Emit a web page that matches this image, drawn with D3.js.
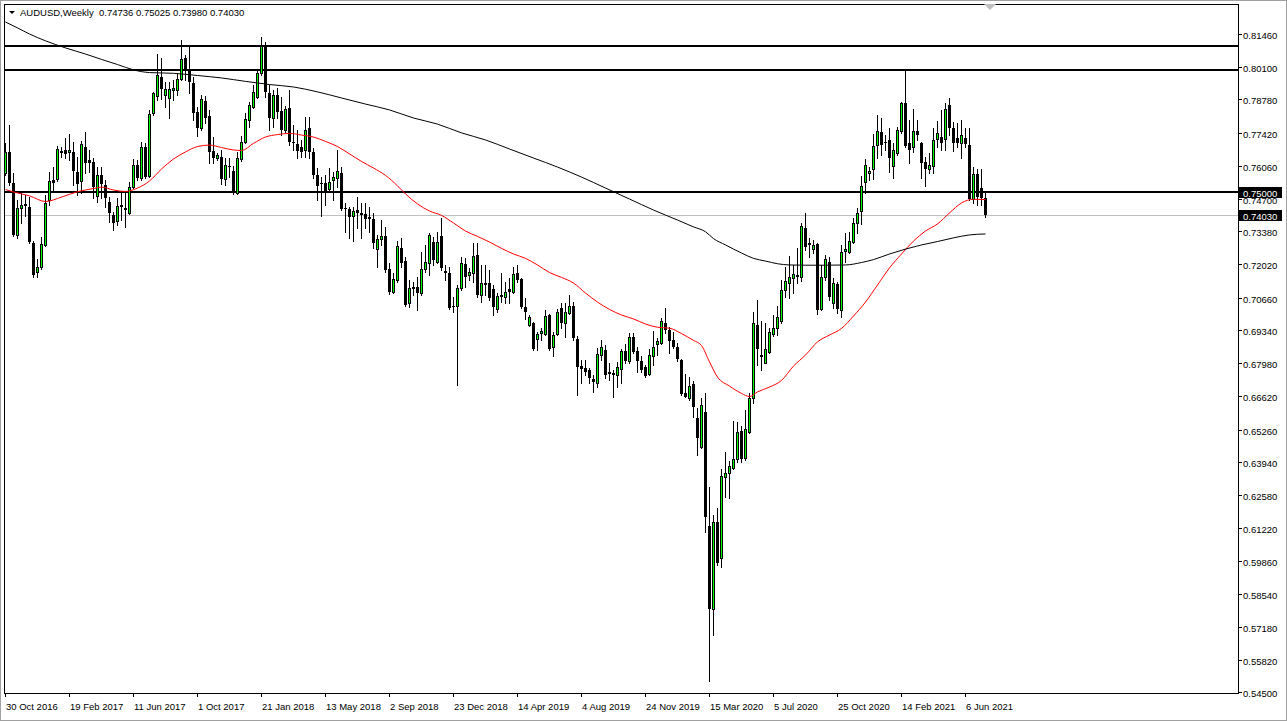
<!DOCTYPE html>
<html><head><meta charset="utf-8">
<script src="https://cdn.jsdelivr.net/npm/d3@7"></script>
<style>
html,body{margin:0;padding:0;background:#fff;overflow:hidden;}
svg{display:block;}
text{font-family:"Liberation Sans",Arial,sans-serif;font-size:9.5px;fill:#000;}
</style></head><body>
<svg id="chart" width="1287" height="721"></svg>
<script>
// ---------------- DATA ----------------
const symbolTitle = "AUDUSD,Weekly";
const firstWeek = "2016-10-30";
const opens = [0.7576,0.7662,0.7537,0.7323,0.7432,0.7449,0.7439,0.7290,0.7173,0.7191,
0.7282,0.7466,0.7548,0.7551,0.7664,0.7671,0.7663,0.7664,0.7581,0.7544,
0.7682,0.7630,0.7621,0.7483,0.7569,0.7528,0.7459,0.7405,0.7381,0.7446,
0.7433,0.7414,0.7520,0.7610,0.7555,0.7682,0.7565,0.7821,0.7892,0.7971,
0.7896,0.7883,0.7916,0.7917,0.7961,0.8047,0.7999,0.7944,0.7828,0.7760,
0.7873,0.7810,0.7668,0.7639,0.7644,0.7551,0.7605,0.7585,0.7494,0.7633,
0.7705,0.7794,0.7848,0.7889,0.7988,0.8097,0.7903,0.7803,0.7896,0.7832,
0.7753,0.7842,0.7705,0.7696,0.7685,0.7671,0.7760,0.7664,0.7569,0.7534,
0.7535,0.7510,0.7548,0.7558,0.7575,0.7435,0.7428,0.7401,0.7425,0.7414,
0.7409,0.7395,0.7387,0.7264,0.7305,0.7319,0.7182,0.7091,0.7139,0.7270,
0.7216,0.7043,0.7109,0.7109,0.7084,0.7182,0.7207,0.7295,0.7213,0.7320,
0.7175,0.7166,0.7032,0.7032,0.7105,0.7203,0.7159,0.7166,0.7241,0.7077,
0.7125,0.7125,0.7100,0.7018,0.7077,0.7068,0.7100,0.7091,0.7166,0.7143,
0.7029,0.6954,0.6961,0.6898,0.6920,0.6917,0.6995,0.6863,0.6917,0.7023,
0.6964,0.7005,0.7032,0.6896,0.6785,0.6777,0.6770,0.6732,0.6715,0.6831,
0.6852,0.6763,0.6759,0.6748,0.6775,0.6848,0.6808,0.6905,0.6848,0.6808,
0.6783,0.6753,0.6828,0.6875,0.6882,0.6961,0.6934,0.6893,0.6865,0.6810,
0.6674,0.6654,0.6712,0.6572,0.6453,0.6599,0.6131,0.5790,0.6149,0.5998,
0.6333,0.6349,0.6367,0.6404,0.6521,0.6408,0.6517,0.6654,0.6954,0.6831,
0.6800,0.6845,0.6917,0.6941,0.6972,0.7097,0.7128,0.7146,0.7158,0.7152,
0.7350,0.7288,0.7264,0.7286,0.7019,0.7150,0.7213,0.7043,0.7122,0.7016,
0.7257,0.7254,0.7295,0.7373,0.7422,0.7541,0.7576,0.7592,0.7691,0.7746,
0.7705,0.7712,0.7605,0.7660,0.7750,0.7862,0.7701,0.7682,0.7750,0.7698,
0.7623,0.7592,0.7605,0.7715,0.7725,0.7715,0.7855,0.7760,0.7719,0.7698,
0.7719,0.7691,0.7469,0.7573,0.7514,0.74736];
const highs = [0.7698,0.7773,0.7577,0.7466,0.7495,0.7487,0.7478,0.7300,0.7225,0.7316,
0.7487,0.7582,0.7600,0.7687,0.7685,0.7719,0.7737,0.7703,0.7644,0.7709,
0.7746,0.7671,0.7637,0.7603,0.7603,0.7548,0.7480,0.7418,0.7474,0.7500,
0.7504,0.7541,0.7635,0.7630,0.7705,0.7698,0.7835,0.7910,0.8064,0.8047,
0.7951,0.7951,0.7958,0.7985,0.8121,0.8060,0.8097,0.7971,0.7848,0.7896,
0.7892,0.7835,0.7725,0.7657,0.7671,0.7637,0.7637,0.7605,0.7664,0.7728,
0.7821,0.7869,0.7937,0.7999,0.8133,0.8115,0.7937,0.7917,0.7925,0.7889,
0.7851,0.7917,0.7773,0.7753,0.7712,0.7807,0.7807,0.7678,0.7596,0.7562,
0.7569,0.7596,0.7582,0.7671,0.7600,0.7453,0.7436,0.7439,0.7477,0.7453,
0.7455,0.7439,0.7412,0.7323,0.7384,0.7357,0.7207,0.7166,0.7300,0.7309,
0.7234,0.7139,0.7132,0.7152,0.7254,0.7282,0.7332,0.7316,0.7336,0.7391,
0.7200,0.7193,0.7070,0.7118,0.7231,0.7227,0.7186,0.7289,0.7289,0.7200,
0.7200,0.7179,0.7118,0.7084,0.7166,0.7132,0.7146,0.7193,0.7200,0.7146,
0.7064,0.6995,0.6968,0.6927,0.6941,0.7016,0.7000,0.6927,0.7019,0.7043,
0.7043,0.7077,0.7050,0.6909,0.6811,0.6811,0.6777,0.6749,0.6859,0.6893,
0.6873,0.6797,0.6770,0.6804,0.6855,0.6876,0.6923,0.6923,0.6865,0.6827,
0.6792,0.6855,0.6930,0.6902,0.6982,0.7023,0.6947,0.6927,0.6879,0.6815,
0.6755,0.6740,0.6726,0.6613,0.6654,0.6677,0.6292,0.6176,0.6203,0.6363,
0.6435,0.6398,0.6562,0.6558,0.6540,0.6606,0.6675,0.7009,0.7057,0.6972,
0.6961,0.6941,0.6995,0.7032,0.7139,0.7193,0.7237,0.7200,0.7268,0.7371,
0.7412,0.7309,0.7302,0.7289,0.7200,0.7241,0.7234,0.7146,0.7132,0.7282,
0.7330,0.7336,0.7391,0.7432,0.7564,0.7633,0.7600,0.7736,0.7814,0.7801,
0.7732,0.7760,0.7701,0.7766,0.7869,0.8002,0.7794,0.7838,0.7794,0.7705,
0.7644,0.7657,0.7760,0.7790,0.7835,0.7862,0.7883,0.7787,0.7780,0.7794,
0.7760,0.7762,0.7600,0.7592,0.7592,0.75025];
const lows = [0.7569,0.7528,0.7319,0.7311,0.7372,0.7401,0.7291,0.7152,0.7152,0.7182,
0.7278,0.7446,0.7500,0.7545,0.7644,0.7637,0.7630,0.7528,0.7487,0.7496,
0.7576,0.7582,0.7473,0.7459,0.7473,0.7439,0.7377,0.7343,0.7364,0.7384,
0.7357,0.7409,0.7515,0.7546,0.7548,0.7555,0.7560,0.7814,0.7876,0.7879,
0.7848,0.7801,0.7876,0.7896,0.7958,0.7958,0.7903,0.7794,0.7728,0.7753,
0.7782,0.7617,0.7617,0.7630,0.7532,0.7528,0.7562,0.7490,0.7491,0.7626,
0.7700,0.7766,0.7843,0.7884,0.7978,0.7889,0.7753,0.7766,0.7803,0.7732,
0.7745,0.7691,0.7671,0.7637,0.7644,0.7644,0.7639,0.7556,0.7466,0.7401,
0.7446,0.7500,0.7466,0.7521,0.7425,0.7336,0.7312,0.7299,0.7350,0.7309,
0.7350,0.7336,0.7268,0.7193,0.7282,0.7171,0.7081,0.7085,0.7130,0.7193,
0.7032,0.7027,0.7077,0.7016,0.7077,0.7172,0.7159,0.7200,0.7207,0.7179,
0.7139,0.7018,0.7009,0.6708,0.7098,0.7111,0.7139,0.7132,0.7068,0.7050,
0.7077,0.7057,0.6995,0.7007,0.7050,0.7043,0.7043,0.7084,0.7131,0.7023,
0.6978,0.6950,0.6852,0.6852,0.6892,0.6913,0.6852,0.6828,0.6913,0.6942,
0.6906,0.6999,0.6893,0.6667,0.6716,0.6750,0.6716,0.6681,0.6701,0.6811,
0.6737,0.6729,0.6660,0.6701,0.6715,0.6800,0.6800,0.6838,0.6761,0.6761,
0.6740,0.6749,0.6790,0.6831,0.6876,0.6920,0.6838,0.6859,0.6808,0.6667,
0.6658,0.6647,0.6576,0.6422,0.6450,0.6107,0.5494,0.5686,0.5971,0.5964,
0.6251,0.6244,0.6363,0.6394,0.6394,0.6401,0.6510,0.6636,0.6790,0.6770,
0.6797,0.6838,0.6909,0.6913,0.6964,0.7069,0.7066,0.7084,0.7128,0.7136,
0.7261,0.7234,0.7248,0.7000,0.7016,0.7139,0.7057,0.7023,0.7002,0.6988,
0.7213,0.7249,0.7290,0.7330,0.7368,0.7495,0.7548,0.7551,0.7637,0.7651,
0.7671,0.7582,0.7555,0.7651,0.7741,0.7682,0.7617,0.7663,0.7712,0.7555,
0.7524,0.7578,0.7578,0.7684,0.7671,0.7671,0.7732,0.7667,0.7684,0.7637,
0.7684,0.7466,0.7454,0.7446,0.7446,0.73980];
const closes = [0.7662,0.7535,0.7323,0.7432,0.7446,0.7443,0.7295,0.7159,0.7193,0.7286,
0.7453,0.7545,0.7537,0.7674,0.7667,0.7653,0.7671,0.7586,0.7532,0.7694,
0.7617,0.7617,0.7521,0.7569,0.7531,0.7474,0.7412,0.7373,0.7443,0.7436,
0.7425,0.7518,0.7610,0.7555,0.7684,0.7562,0.7818,0.7903,0.7978,0.7920,
0.7921,0.7920,0.7924,0.7961,0.8042,0.7999,0.7951,0.7821,0.7760,0.7879,
0.7802,0.7664,0.7637,0.7650,0.7551,0.7610,0.7600,0.7494,0.7637,0.7705,
0.7797,0.7855,0.7910,0.7985,0.8097,0.7910,0.7801,0.7896,0.7828,0.7753,
0.7838,0.7705,0.7698,0.7668,0.7664,0.7753,0.7664,0.7569,0.7524,0.7530,
0.7500,0.7541,0.7562,0.7586,0.7431,0.7428,0.7395,0.7421,0.7412,0.7405,
0.7388,0.7387,0.7289,0.7305,0.7319,0.7179,0.7091,0.7141,0.7278,0.7207,
0.7036,0.7105,0.7100,0.7084,0.7182,0.7212,0.7323,0.7220,0.7295,0.7186,
0.7166,0.7023,0.7027,0.7105,0.7209,0.7152,0.7173,0.7237,0.7077,0.7125,
0.7117,0.7064,0.7029,0.7073,0.7070,0.7091,0.7091,0.7163,0.7139,0.7029,
0.7009,0.6986,0.6855,0.6917,0.6931,0.6991,0.6855,0.6913,0.7009,0.6964,
0.7009,0.7032,0.6900,0.6783,0.6772,0.6763,0.6736,0.6722,0.6835,0.6865,
0.6749,0.6752,0.6751,0.6781,0.6848,0.6808,0.6906,0.6845,0.6808,0.6770,
0.6747,0.6831,0.6865,0.6890,0.6971,0.6934,0.6890,0.6863,0.6814,0.6670,
0.6661,0.6704,0.6617,0.6493,0.6627,0.6169,0.5790,0.6149,0.5978,0.6336,
0.6347,0.6377,0.6404,0.6517,0.6404,0.6527,0.6654,0.6961,0.6855,0.6824,
0.6855,0.6924,0.6941,0.6986,0.7097,0.7136,0.7150,0.7163,0.7152,0.7360,
0.7272,0.7283,0.7282,0.7016,0.7150,0.7223,0.7068,0.7125,0.7019,0.7254,
0.7264,0.7299,0.7373,0.7414,0.7524,0.7610,0.7586,0.7687,0.7750,0.7691,
0.7698,0.7637,0.7671,0.7753,0.7865,0.7687,0.7671,0.7750,0.7731,0.7619,
0.7592,0.7610,0.7712,0.7739,0.7701,0.7838,0.7760,0.7701,0.7698,0.7732,
0.7694,0.7469,0.7573,0.7480,0.7473,0.74030];

// moving averages: [bar index, value]
const redMaIdx = [0,2,6,10,14,18,22,24,27,30,33,36,39,42,45,48,51,54,57,59,62,65,68,71,74,77,80,83,86,89,92,95,98,100,103,106,109,112,115,118,121,124,127,130,133,136,139,142,145,148,151,154,157,160,163,166,169,172,174,176,178,181,184,186,188,191,194,197,200,203,206,209,212,215,218,221,224,227,230,233,236,239,242,245];
const redMaVal = [0.7509,0.7499,0.7483,0.7460,0.7478,0.7500,0.7513,0.7519,0.7507,0.7501,0.7515,0.7544,0.7593,0.7634,0.7663,0.7685,0.7691,0.7681,0.7671,0.7669,0.7698,0.7724,0.7734,0.7739,0.7732,0.7724,0.7706,0.7685,0.7655,0.7624,0.7597,0.7567,0.7524,0.7491,0.7450,0.7421,0.7403,0.7372,0.7339,0.7317,0.7294,0.7268,0.7245,0.7227,0.7200,0.7169,0.7149,0.7126,0.7085,0.7048,0.7018,0.6995,0.6979,0.6958,0.6945,0.6941,0.6919,0.6891,0.6870,0.6803,0.6741,0.6704,0.6674,0.6661,0.6680,0.6700,0.6727,0.6786,0.6831,0.6885,0.6913,0.6940,0.6991,0.7048,0.7118,0.7188,0.7245,0.7298,0.7339,0.7368,0.7413,0.7454,0.7469,0.7468];
const blackMaIdx = [0,3,6,10,15,20,24,28,32,36,42,48,54,60,66,72,78,84,90,96,102,108,114,120,126,132,138,144,150,156,162,168,172,175,177,180,184,187,190,193,196,200,205,210,214,217,221,225,229,233,237,241,245];
const blackMaVal = [0.8195,0.8171,0.8146,0.8118,0.8089,0.8064,0.8042,0.8021,0.7999,0.7988,0.7985,0.7976,0.7966,0.7952,0.7939,0.7929,0.7909,0.7884,0.7859,0.7835,0.7802,0.7777,0.7741,0.7712,0.7675,0.7638,0.7601,0.7560,0.7515,0.7470,0.7425,0.7384,0.7356,0.7336,0.7308,0.7282,0.7249,0.7227,0.7216,0.7205,0.7200,0.7199,0.7199,0.7200,0.7210,0.7222,0.7245,0.7265,0.7282,0.7296,0.7311,0.7323,0.7327];

const levelLines = [0.8098, 0.7997, 0.7500];
const bidPrice = 0.74030;
const priceTicks = ["0.81460","0.80100","0.78780","0.77420","0.76060","0.74700","0.73380","0.72020","0.70660","0.69340","0.67980","0.66620","0.65260","0.63940","0.62580","0.61220","0.59860","0.58540","0.57180","0.55820","0.54500"];
const dateLabels = ["30 Oct 2016","19 Feb 2017","11 Jun 2017","1 Oct 2017","21 Jan 2018","13 May 2018","2 Sep 2018","23 Dec 2018","14 Apr 2019","4 Aug 2019","24 Nov 2019","15 Mar 2020","5 Jul 2020","25 Oct 2020","14 Feb 2021","6 Jun 2021"];

// ---------------- CHART ----------------
const W = 1287, H = 721;
const F = {l:4, t:4, r:1238, b:693};
const svg = d3.select("#chart");
const n = opens.length;
const weeks = d3.range(n).map(i => d3.utcDay.offset(new Date(firstWeek + "T00:00:00Z"), 7*i));
const fmt = d3.utcFormat("%-d %b %Y");
const idxByLabel = new Map(weeks.map((d,i) => [fmt(d), i]));

const x = d3.scaleLinear().domain([0, n-1]).range([5, 5 + 4*(n-1)]);
const y = d3.scaleLinear().domain([0.5582, 0.8146]).range([660, 34]);
const cx = i => Math.round(x(i));
const py = v => Math.round(y(v));

svg.append("rect").attr("width", W).attr("height", H).attr("fill", "#fff");
svg.append("rect").attr("x",0.5).attr("y",0.5).attr("width",W-1).attr("height",H-1)
  .attr("fill","none").attr("stroke","#a0a0a0");

svg.append("defs").append("clipPath").attr("id","plot")
  .append("rect").attr("x",F.l+1).attr("y",F.t+1).attr("width",F.r-F.l-1).attr("height",F.b-F.t-1);
const g = svg.append("g").attr("clip-path","url(#plot)").attr("shape-rendering","crispEdges");

// bid line
g.append("line").attr("x1",F.l).attr("x2",F.r)
  .attr("y1",py(bidPrice)+0.5).attr("y2",py(bidPrice)+0.5)
  .attr("stroke","#c0c0c0").attr("stroke-width",1);

// horizontal levels
g.selectAll(".lvl").data(levelLines).join("line").attr("class","lvl")
  .attr("x1",F.l).attr("x2",F.r)
  .attr("y1",d=>py(d)).attr("y2",d=>py(d))
  .attr("stroke","#000").attr("stroke-width",2);

// candles
const candles = d3.range(n).map(i => ({i, o:opens[i], h:highs[i], l:lows[i], c:closes[i]}));
const cg = g.append("g");
cg.selectAll(".wick").data(candles).join("line").attr("class","wick")
  .attr("x1",d=>cx(d.i)+0.5).attr("x2",d=>cx(d.i)+0.5)
  .attr("y1",d=>py(d.h)).attr("y2",d=>py(d.l)+1)
  .attr("stroke","#000").attr("stroke-width",1);
cg.selectAll(".body").data(candles).join("rect").attr("class","body")
  .each(function(d){
    const top = Math.min(py(d.o), py(d.c)), bot = Math.max(py(d.o), py(d.c));
    const s = d3.select(this);
    if (d.c > d.o && bot - top >= 2) {
      s.attr("x", cx(d.i)-0.5).attr("y", top+0.5).attr("width",2).attr("height", bot-top)
       .attr("fill","#00ff00").attr("stroke","#000").attr("stroke-width",1);
    } else {
      s.attr("x", cx(d.i)-1).attr("y", top).attr("width",3).attr("height", Math.max(bot-top,1)+ (d.c>d.o?1:0))
       .attr("fill","#000");
    }
  });

// moving averages
const line = d3.line().x(d=>x(d[0])+0.5).y(d=>y(d[1])).curve(d3.curveMonotoneX);
g.append("path").datum(redMaIdx.map((v,k)=>[v, redMaVal[k]]))
  .attr("d", line).attr("fill","none").attr("stroke","#ff0000").attr("stroke-width",1)
  .attr("shape-rendering","auto");
g.append("path").datum(blackMaIdx.map((v,k)=>[v, blackMaVal[k]]))
  .attr("d", line).attr("fill","none").attr("stroke","#000").attr("stroke-width",1)
  .attr("shape-rendering","auto");

// frame
svg.append("rect").attr("x",F.l+0.5).attr("y",F.t+0.5).attr("width",F.r-F.l).attr("height",F.b-F.t)
  .attr("fill","none").attr("stroke","#000").attr("shape-rendering","crispEdges");

// right axis
const ax = svg.append("g").attr("shape-rendering","crispEdges");
priceTicks.forEach(t => {
  const v = +t, yy = Math.min(py(v), F.b);
  ax.append("line").attr("x1",F.r).attr("x2",F.r+4).attr("y1",yy+0.5).attr("y2",yy+0.5).attr("stroke","#000");
  ax.append("text").attr("x",F.r+5).attr("y",Math.min(yy+2, 697)).attr("dy","0.35em").text(t);
});

// bottom axis
dateLabels.forEach(lbl => {
  const i = idxByLabel.get(lbl);
  const xx = cx(i);
  ax.append("line").attr("x1",xx+0.5).attr("x2",xx+0.5).attr("y1",F.b).attr("y2",F.b+4).attr("stroke","#000");
  ax.append("text").attr("x",xx+1).attr("y",710).text(lbl);
});

// price boxes
[[0.75,"0.75000"],[bidPrice,"0.74030"]].forEach(([v,t])=>{
  const yy = py(v);
  ax.append("rect").attr("x",F.r+1).attr("y",yy-5).attr("width",43).attr("height",11).attr("fill","#000");
  ax.append("text").attr("x",F.r+5).attr("y",yy+2).attr("dy","0.35em").style("fill","#fff").text(t);
});

// header
svg.append("path").attr("d","M9,11 L15,11 L12,14 Z").attr("fill","#000");
svg.append("text").attr("x",20).attr("y",16)
  .text(symbolTitle + "  " + [opens[n-1],highs[n-1],lows[n-1],closes[n-1]].map(v=>v.toFixed(5)).join(" "))
  .attr("xml:space","preserve").style("white-space","pre");

// chart-shift marker
svg.append("path").attr("d","M984,4 L996,4 L990,10 Z").attr("fill","#c0c0c0");
</script>
</body></html>
